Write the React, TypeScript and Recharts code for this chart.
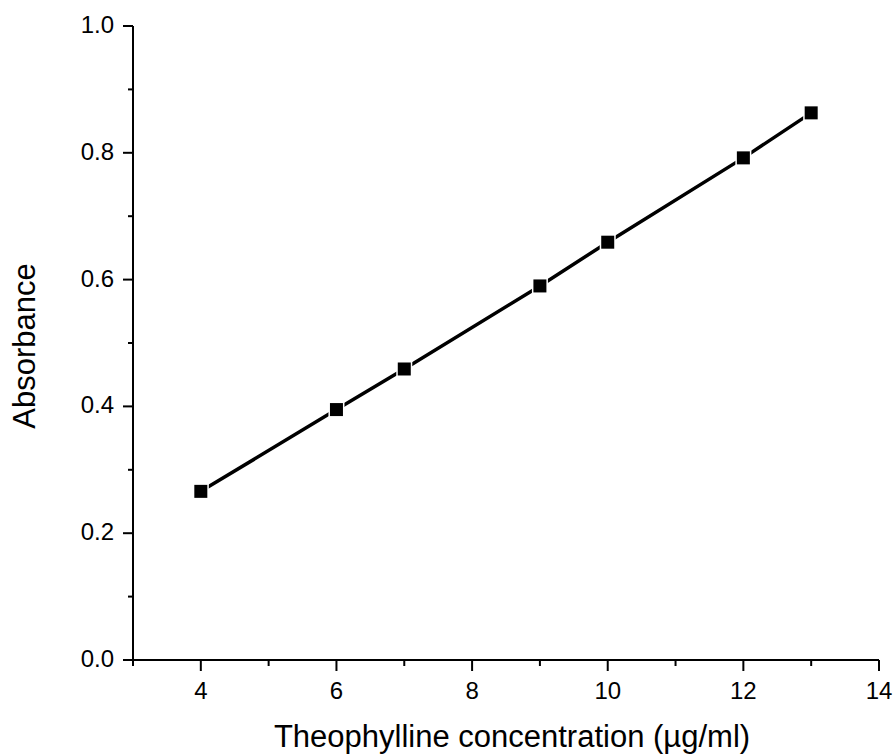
import React from 'react';
import { LineChart, Line, XAxis, YAxis } from 'recharts';

const concentrations = [4, 6, 7, 9, 10, 12, 13];
const absorbance = [0.266, 0.395, 0.459, 0.590, 0.659, 0.792, 0.863];

const xMajorTicks = [4, 6, 8, 10, 12, 14];
const xMinorTicks = [3, 5, 7, 9, 11, 13];
const yMajorTicks = [0, 0.2, 0.4, 0.6, 0.8, 1.0];
const yMinorTicks = [0.1, 0.3, 0.5, 0.7, 0.9];

const data = concentrations.map((c, i) => ({ conc: c, abs: absorbance[i] }));
const xTicks = [...xMajorTicks, ...xMinorTicks].sort((a, b) => a - b);
const yTicks = [...yMajorTicks, ...yMinorTicks].sort((a, b) => a - b);

const FONT = '"Liberation Sans", Arial, sans-serif';
const isMajor = (list: number[], v: number) => list.some((m) => Math.abs(m - v) < 1e-6);

const XTick = (props: any) => {
    const { x, y, payload } = props;
    const major = isMajor(xMajorTicks, payload.value);
    return (
        <g>
            <line x1={x} x2={x} y1={y} y2={y + (major ? 11 : 6)} stroke="#000" strokeWidth={2} />
            {major && (
                <text x={x} y={y + 39} textAnchor="middle" fontSize={24} fontFamily={FONT} fill="#000">
                    {payload.value}
                </text>
            )}
        </g>
    );
};

const YTick = (props: any) => {
    const { x, y, payload } = props;
    const major = isMajor(yMajorTicks, payload.value);
    return (
        <g>
            <line x1={x} x2={x - (major ? 10 : 5)} y1={y} y2={y} stroke="#000" strokeWidth={2} />
            {major && (
                <text x={x - 19} y={y + 7} textAnchor="end" fontSize={24} fontFamily={FONT} fill="#000">
                    {Number(payload.value).toFixed(1)}
                </text>
            )}
        </g>
    );
};

const SquareDot = (props: any) => {
    const { cx, cy, index } = props;
    return (
        <g key={`dot-${index}`}>
            <rect x={cx - 8} y={cy - 8} width={16} height={16} fill="#fff" />
            <rect x={cx - 6.5} y={cy - 6.5} width={13} height={13} fill="#000" />
        </g>
    );
};

const App: React.FC = () => {
    return (
        <div style={{ position: 'absolute', left: 0, top: 0, width: 894, height: 754, background: '#fff' }}>
            <LineChart width={894} height={754} data={data} margin={{ top: 26, right: 15, bottom: 0, left: 0 }}>
                <XAxis
                    dataKey="conc"
                    type="number"
                    domain={[3, 14]}
                    ticks={xTicks}
                    interval={0}
                    height={94}
                    tickSize={0}
                    tickMargin={0}
                    tickLine={false}
                    axisLine={{ stroke: '#000', strokeWidth: 2 }}
                    tick={<XTick />}
                    label={{
                        content: ({ viewBox }: any) => (
                            <text
                                x={viewBox.x + viewBox.width / 2 + 6}
                                y={viewBox.y + 87}
                                textAnchor="middle"
                                fontSize={31}
                                fontFamily={FONT}
                                fill="#000"
                            >
                                Theophylline concentration (µg/ml)
                            </text>
                        ),
                    }}
                />
                <YAxis
                    type="number"
                    domain={[0, 1]}
                    ticks={yTicks}
                    interval={0}
                    width={133}
                    tickSize={0}
                    tickMargin={0}
                    tickLine={false}
                    axisLine={{ stroke: '#000', strokeWidth: 2 }}
                    tick={<YTick />}
                    label={{
                        content: ({ viewBox }: any) => {
                            const lx = viewBox.x + 35;
                            const ly = viewBox.y + viewBox.height / 2 + 3;
                            return (
                                <text
                                    x={lx}
                                    y={ly}
                                    transform={`rotate(-90, ${lx}, ${ly})`}
                                    textAnchor="middle"
                                    fontSize={31}
                                    fontFamily={FONT}
                                    fill="#000"
                                >
                                    Absorbance
                                </text>
                            );
                        },
                    }}
                />
                <Line
                    type="linear"
                    dataKey="abs"
                    stroke="#000"
                    strokeWidth={3.5}
                    dot={<SquareDot />}
                    activeDot={false}
                    isAnimationActive={false}
                />
            </LineChart>
        </div>
    );
};

export default App;
